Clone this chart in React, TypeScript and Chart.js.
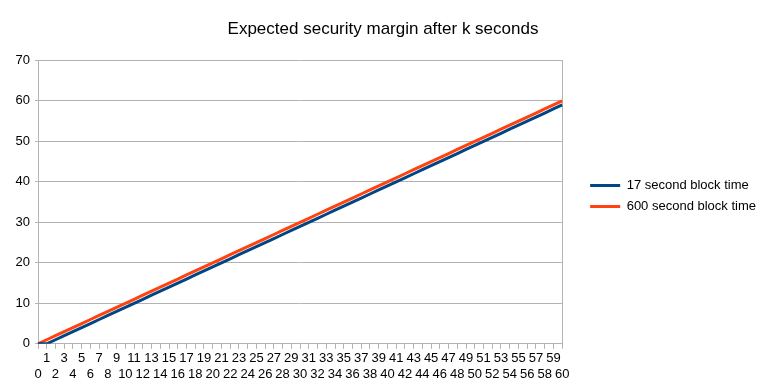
import React, { useEffect, useRef } from "react";
import { Chart, registerables } from "chart.js";

Chart.register(...registerables);

const categories = [
  "0","1","2","3","4","5","6","7","8","9","10","11","12","13","14","15","16","17","18","19","20",
  "21","22","23","24","25","26","27","28","29","30","31","32","33","34","35","36","37","38","39","40",
  "41","42","43","44","45","46","47","48","49","50","51","52","53","54","55","56","57","58","59","60",
];

const block17 = [
  0,0,1,2,3,4,5,6,7,8,9,10,11,12,13,14,15,16,17,18,19,
  20,21,22,23,24,25,26,27,28,29,30,31,32,33,34,35,36,37,38,39,
  40,41,42,43,44,45,46,47,48,49,50,51,52,53,54,55,56,57,58,59,
];

const block600 = [
  0,1,2,3,4,5,6,7,8,9,10,11,12,13,14,15,16,17,18,19,20,
  21,22,23,24,25,26,27,28,29,30,31,32,33,34,35,36,37,38,39,40,
  41,42,43,44,45,46,47,48,49,50,51,52,53,54,55,56,57,58,59,60,
];

const seriesNames = ["17 second block time", "600 second block time"];
const titleText = "Expected security margin after k seconds";

const FONT = "'Liberation Sans', Arial, sans-serif";
const GRID = "#b3b3b3";

// let the right-hand legend take its natural width even with an extra right axis
const legendWidthFix = {
  id: "legendWidthFix",
  beforeLayout(chart: any) {
    const lg = chart.legend;
    if (lg && !lg.__patched) {
      const orig = lg.update.bind(lg);
      lg.update = (mw: number, mh: number, m: any) => orig(Math.max(mw, 300), mh, m);
      lg.__patched = true;
    }
  },
};

export default function App() {
  const ref = useRef<HTMLCanvasElement>(null);
  useEffect(() => {
    document.body.style.margin = "0";
    const chart = new Chart(ref.current as HTMLCanvasElement, {
      type: "line",
      data: {
        labels: categories,
        datasets: [
          {
            label: seriesNames[0],
            data: block17,
            borderColor: "#004586",
            backgroundColor: "#004586",
            borderWidth: 3,
            pointRadius: 0,
            tension: 0,
          },
          {
            label: seriesNames[1],
            data: block600,
            borderColor: "#ff420e",
            backgroundColor: "#ff420e",
            borderWidth: 3,
            pointRadius: 0,
            tension: 0,
          },
        ],
      },
      options: {
        animation: false,
        responsive: false,
        layout: { padding: { left: 0, right: 0, top: 0, bottom: 6 } },
        plugins: {
          title: {
            display: true,
            text: titleText,
            color: "#000",
            font: { family: FONT, size: 17, weight: "normal" },
            padding: { top: 19, bottom: 21 },
          },
          legend: {
            position: "right",
            title: {
              display: true,
              text: "",
              padding: 0,
              font: { family: FONT, size: 8, lineHeight: 1 },
            },
            labels: {
              boxWidth: 30,
              boxHeight: 3,
              color: "#000",
              font: { family: FONT, size: 13 },
              padding: 8,
              generateLabels: (c: any) =>
                Chart.defaults.plugins.legend.labels
                  .generateLabels(c)
                  .map((l: any) => ({ ...l, lineWidth: 0 })),
            },
          },
          tooltip: { enabled: false },
        },
        scales: {
          x: {
            offset: false,
            grid: { drawOnChartArea: false, drawTicks: true, tickLength: 5, color: GRID },
            border: { color: GRID },
            ticks: {
              autoSkip: false,
              maxRotation: 0,
              minRotation: 0,
              color: "#000",
              padding: 2,
              font: { family: FONT, size: 13 },
              callback: function (this: any, value: any, index: number) {
                const lab = categories[index];
                return index % 2 === 0 ? ["", lab] : [lab, ""];
              },
            },
          },
          y: {
            min: 0,
            max: 70,
            grid: { color: GRID, tickLength: 3 },
            border: { color: GRID },
            afterFit: (scale: any) => {
              scale.width = 38;
            },
            ticks: {
              stepSize: 10,
              color: "#000",
              padding: 5,
              font: { family: FONT, size: 13 },
            },
          },
          y2: {
            position: "right",
            min: 0,
            max: 70,
            grid: { drawOnChartArea: false, drawTicks: false },
            border: { display: true, color: GRID },
            ticks: { display: false },
            afterFit: (scale: any) => {
              scale.width = 20;
            },
          },
        },
      },
      plugins: [legendWidthFix],
    });
    return () => chart.destroy();
  }, []);
  return <canvas ref={ref} width={766} height={390} style={{ display: "block" }} />;
}
